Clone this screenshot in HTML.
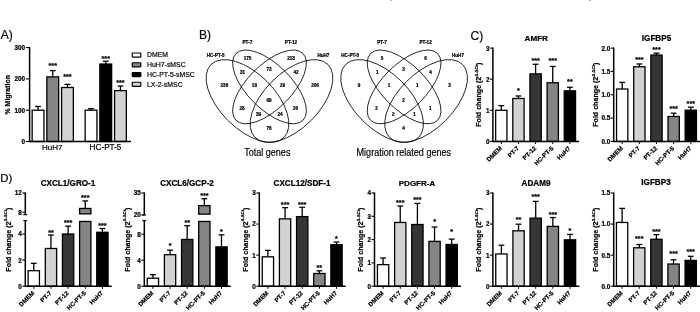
<!DOCTYPE html>
<html lang="en"><head><meta charset="utf-8"><title>Figure</title>
<style>html,body{margin:0;padding:0;background:#fff;}svg{display:block;}</style></head><body>
<svg width="700" height="312" viewBox="0 0 700 312" font-family="'Liberation Sans', sans-serif" fill="#000">
<rect x="0" y="0" width="700" height="312" fill="#fff"/>
<rect x="390.3" y="0" width="1.6" height="0.9" fill="#9a9a9a"/><rect x="589.3" y="0" width="1.6" height="0.9" fill="#9a9a9a"/>
<text x="0.80" y="39.00" font-size="12.0" stroke="#000" stroke-width="0.18" text-anchor="start">A)</text>
<line x1="38.05" y1="106.44" x2="38.05" y2="110.20" stroke="#000" stroke-width="1.3" stroke-linecap="butt"/>
<line x1="35.15" y1="106.44" x2="40.95" y2="106.44" stroke="#000" stroke-width="1.3" stroke-linecap="butt"/>
<rect x="32.15" y="110.20" width="11.80" height="31.30" fill="#ffffff" stroke="#000" stroke-width="1.3"/>
<line x1="52.75" y1="70.61" x2="52.75" y2="76.87" stroke="#000" stroke-width="1.3" stroke-linecap="butt"/>
<line x1="49.85" y1="70.61" x2="55.65" y2="70.61" stroke="#000" stroke-width="1.3" stroke-linecap="butt"/>
<rect x="46.85" y="76.87" width="11.80" height="64.63" fill="#858585" stroke="#000" stroke-width="1.3"/>
<text x="52.75" y="68.31" font-size="7.2" font-weight="bold" stroke="#000" stroke-width="0.22" text-anchor="middle">***</text>
<line x1="67.45" y1="84.38" x2="67.45" y2="87.51" stroke="#000" stroke-width="1.3" stroke-linecap="butt"/>
<line x1="64.55" y1="84.38" x2="70.35" y2="84.38" stroke="#000" stroke-width="1.3" stroke-linecap="butt"/>
<rect x="61.55" y="87.51" width="11.80" height="53.99" fill="#d2d2d2" stroke="#000" stroke-width="1.3"/>
<text x="67.45" y="78.51" font-size="7.2" font-weight="bold" stroke="#000" stroke-width="0.22" text-anchor="middle">***</text>
<line x1="91.05" y1="108.63" x2="91.05" y2="110.20" stroke="#000" stroke-width="1.3" stroke-linecap="butt"/>
<line x1="88.15" y1="108.63" x2="93.95" y2="108.63" stroke="#000" stroke-width="1.3" stroke-linecap="butt"/>
<rect x="85.15" y="110.20" width="11.80" height="31.30" fill="#ffffff" stroke="#000" stroke-width="1.3"/>
<line x1="105.75" y1="61.22" x2="105.75" y2="64.03" stroke="#000" stroke-width="1.3" stroke-linecap="butt"/>
<line x1="102.85" y1="61.22" x2="108.65" y2="61.22" stroke="#000" stroke-width="1.3" stroke-linecap="butt"/>
<rect x="99.85" y="64.03" width="11.80" height="77.47" fill="#000000" stroke="#000" stroke-width="1.3"/>
<text x="105.75" y="60.51" font-size="7.2" font-weight="bold" stroke="#000" stroke-width="0.22" text-anchor="middle">***</text>
<line x1="120.45" y1="86.10" x2="120.45" y2="90.64" stroke="#000" stroke-width="1.3" stroke-linecap="butt"/>
<line x1="117.55" y1="86.10" x2="123.35" y2="86.10" stroke="#000" stroke-width="1.3" stroke-linecap="butt"/>
<rect x="114.55" y="90.64" width="11.80" height="50.86" fill="#d2d2d2" stroke="#000" stroke-width="1.3"/>
<text x="120.45" y="85.11" font-size="7.2" font-weight="bold" stroke="#000" stroke-width="0.22" text-anchor="middle">***</text>
<line x1="29.60" y1="47.05" x2="29.60" y2="142.25" stroke="#000" stroke-width="1.5" stroke-linecap="butt"/>
<line x1="29.60" y1="141.50" x2="131.00" y2="141.50" stroke="#000" stroke-width="1.5" stroke-linecap="butt"/>
<line x1="25.80" y1="141.50" x2="29.60" y2="141.50" stroke="#000" stroke-width="1.1" stroke-linecap="butt"/>
<text x="25.00" y="143.90" font-size="6.3" font-weight="bold" stroke="#000" stroke-width="0.22" text-anchor="end">0</text>
<line x1="25.80" y1="110.20" x2="29.60" y2="110.20" stroke="#000" stroke-width="1.1" stroke-linecap="butt"/>
<text x="25.00" y="112.60" font-size="6.3" font-weight="bold" stroke="#000" stroke-width="0.22" text-anchor="end">100</text>
<line x1="25.80" y1="78.90" x2="29.60" y2="78.90" stroke="#000" stroke-width="1.1" stroke-linecap="butt"/>
<text x="25.00" y="81.30" font-size="6.3" font-weight="bold" stroke="#000" stroke-width="0.22" text-anchor="end">200</text>
<line x1="25.80" y1="47.60" x2="29.60" y2="47.60" stroke="#000" stroke-width="1.1" stroke-linecap="butt"/>
<text x="25.00" y="50.00" font-size="6.3" font-weight="bold" stroke="#000" stroke-width="0.22" text-anchor="end">300</text>
<text x="52.20" y="150.40" font-size="8.0" stroke="#000" stroke-width="0.18" text-anchor="middle">HuH7</text>
<text x="105.50" y="150.40" font-size="8.2" stroke="#000" stroke-width="0.18" text-anchor="middle">HC-PT-5</text>
<text x="0" y="0" font-size="7.0" font-weight="bold" stroke="#000" stroke-width="0.22" text-anchor="middle" transform="translate(10.1 94.8) rotate(-90) scale(1 0.92)">% Migration</text>
<rect x="132.25" y="53.00" width="8.6" height="4.1" rx="0.5" fill="#ffffff" stroke="#000" stroke-width="1.2"/>
<text x="147.00" y="57.40" font-size="6.9" stroke="#000" stroke-width="0.18" text-anchor="start">DMEM</text>
<rect x="132.25" y="62.75" width="8.6" height="4.1" rx="0.5" fill="#858585" stroke="#000" stroke-width="1.2"/>
<text x="147.00" y="67.15" font-size="6.9" stroke="#000" stroke-width="0.18" text-anchor="start">HuH7-sMSC</text>
<rect x="132.25" y="72.50" width="8.6" height="4.1" rx="0.5" fill="#000000" stroke="#000" stroke-width="1.2"/>
<text x="147.00" y="76.90" font-size="6.9" stroke="#000" stroke-width="0.18" text-anchor="start">HC-PT-5-sMSC</text>
<rect x="132.25" y="82.25" width="8.6" height="4.1" rx="0.5" fill="#d2d2d2" stroke="#000" stroke-width="1.2"/>
<text x="147.00" y="86.65" font-size="6.9" stroke="#000" stroke-width="0.18" text-anchor="start">LX-2-sMSC</text>
<text x="199.00" y="39.00" font-size="12.0" stroke="#000" stroke-width="0.18" text-anchor="start">B)</text>
<g fill="none" stroke="#000" stroke-width="0.8">
<ellipse cx="247.50" cy="101" rx="51.6" ry="27.6" transform="rotate(45 247.50 101)"/>
<ellipse cx="291.50" cy="101" rx="51.6" ry="27.6" transform="rotate(-45 291.50 101)"/>
<ellipse cx="269.50" cy="86.9" rx="47.3" ry="22" transform="rotate(45 269.50 86.9)"/>
<ellipse cx="269.50" cy="86.9" rx="47.3" ry="22" transform="rotate(-45 269.50 86.9)"/>
</g>
<text x="247.50" y="59.80" font-size="4.6" font-weight="bold" stroke="#000" stroke-width="0.22" text-anchor="middle">175</text>
<text x="291.00" y="59.80" font-size="4.6" font-weight="bold" stroke="#000" stroke-width="0.22" text-anchor="middle">213</text>
<text x="269.00" y="70.60" font-size="4.6" font-weight="bold" stroke="#000" stroke-width="0.22" text-anchor="middle">73</text>
<text x="242.60" y="73.60" font-size="4.6" font-weight="bold" stroke="#000" stroke-width="0.22" text-anchor="middle">31</text>
<text x="296.00" y="73.60" font-size="4.6" font-weight="bold" stroke="#000" stroke-width="0.22" text-anchor="middle">42</text>
<text x="224.40" y="87.20" font-size="4.6" font-weight="bold" stroke="#000" stroke-width="0.22" text-anchor="middle">236</text>
<text x="254.40" y="87.20" font-size="4.6" font-weight="bold" stroke="#000" stroke-width="0.22" text-anchor="middle">18</text>
<text x="282.60" y="87.20" font-size="4.6" font-weight="bold" stroke="#000" stroke-width="0.22" text-anchor="middle">29</text>
<text x="315.00" y="87.20" font-size="4.6" font-weight="bold" stroke="#000" stroke-width="0.22" text-anchor="middle">206</text>
<text x="269.00" y="102.20" font-size="4.6" font-weight="bold" stroke="#000" stroke-width="0.22" text-anchor="middle">69</text>
<text x="242.00" y="110.20" font-size="4.6" font-weight="bold" stroke="#000" stroke-width="0.22" text-anchor="middle">28</text>
<text x="295.60" y="110.20" font-size="4.6" font-weight="bold" stroke="#000" stroke-width="0.22" text-anchor="middle">26</text>
<text x="258.60" y="115.60" font-size="4.6" font-weight="bold" stroke="#000" stroke-width="0.22" text-anchor="middle">39</text>
<text x="280.00" y="115.60" font-size="4.6" font-weight="bold" stroke="#000" stroke-width="0.22" text-anchor="middle">24</text>
<text x="269.00" y="129.60" font-size="4.6" font-weight="bold" stroke="#000" stroke-width="0.22" text-anchor="middle">76</text>
<text x="215.60" y="56.90" font-size="4.6" font-weight="bold" stroke="#000" stroke-width="0.22" text-anchor="middle">HC-PT-5</text>
<text x="247.40" y="44.00" font-size="4.6" font-weight="bold" stroke="#000" stroke-width="0.22" text-anchor="middle">PT-7</text>
<text x="291.00" y="44.00" font-size="4.6" font-weight="bold" stroke="#000" stroke-width="0.22" text-anchor="middle">PT-12</text>
<text x="323.40" y="56.90" font-size="4.6" font-weight="bold" stroke="#000" stroke-width="0.22" text-anchor="middle">HuH7</text>
<g fill="none" stroke="#000" stroke-width="0.8">
<ellipse cx="382.10" cy="101" rx="51.6" ry="27.6" transform="rotate(45 382.10 101)"/>
<ellipse cx="426.10" cy="101" rx="51.6" ry="27.6" transform="rotate(-45 426.10 101)"/>
<ellipse cx="404.10" cy="86.9" rx="47.3" ry="22" transform="rotate(45 404.10 86.9)"/>
<ellipse cx="404.10" cy="86.9" rx="47.3" ry="22" transform="rotate(-45 404.10 86.9)"/>
</g>
<text x="382.10" y="59.80" font-size="4.6" font-weight="bold" stroke="#000" stroke-width="0.22" text-anchor="middle">5</text>
<text x="425.60" y="59.80" font-size="4.6" font-weight="bold" stroke="#000" stroke-width="0.22" text-anchor="middle">6</text>
<text x="403.60" y="70.60" font-size="4.6" font-weight="bold" stroke="#000" stroke-width="0.22" text-anchor="middle">3</text>
<text x="377.20" y="73.60" font-size="4.6" font-weight="bold" stroke="#000" stroke-width="0.22" text-anchor="middle">1</text>
<text x="430.60" y="73.60" font-size="4.6" font-weight="bold" stroke="#000" stroke-width="0.22" text-anchor="middle">4</text>
<text x="359.00" y="87.20" font-size="4.6" font-weight="bold" stroke="#000" stroke-width="0.22" text-anchor="middle">9</text>
<text x="389.00" y="87.20" font-size="4.6" font-weight="bold" stroke="#000" stroke-width="0.22" text-anchor="middle">1</text>
<text x="417.20" y="87.20" font-size="4.6" font-weight="bold" stroke="#000" stroke-width="0.22" text-anchor="middle">1</text>
<text x="449.60" y="87.20" font-size="4.6" font-weight="bold" stroke="#000" stroke-width="0.22" text-anchor="middle">3</text>
<text x="403.60" y="102.20" font-size="4.6" font-weight="bold" stroke="#000" stroke-width="0.22" text-anchor="middle">2</text>
<text x="376.60" y="110.20" font-size="4.6" font-weight="bold" stroke="#000" stroke-width="0.22" text-anchor="middle">2</text>
<text x="430.20" y="110.20" font-size="4.6" font-weight="bold" stroke="#000" stroke-width="0.22" text-anchor="middle">1</text>
<text x="393.20" y="115.60" font-size="4.6" font-weight="bold" stroke="#000" stroke-width="0.22" text-anchor="middle">2</text>
<text x="414.60" y="115.60" font-size="4.6" font-weight="bold" stroke="#000" stroke-width="0.22" text-anchor="middle">1</text>
<text x="403.60" y="129.60" font-size="4.6" font-weight="bold" stroke="#000" stroke-width="0.22" text-anchor="middle">4</text>
<text x="350.20" y="56.90" font-size="4.6" font-weight="bold" stroke="#000" stroke-width="0.22" text-anchor="middle">HC-PT-5</text>
<text x="382.00" y="44.00" font-size="4.6" font-weight="bold" stroke="#000" stroke-width="0.22" text-anchor="middle">PT-7</text>
<text x="425.60" y="44.00" font-size="4.6" font-weight="bold" stroke="#000" stroke-width="0.22" text-anchor="middle">PT-12</text>
<text x="458.00" y="56.90" font-size="4.6" font-weight="bold" stroke="#000" stroke-width="0.22" text-anchor="middle">HuH7</text>
<text x="267.30" y="155.80" font-size="10.4" stroke="#000" stroke-width="0.18" text-anchor="middle" transform="translate(267.30 155.80) scale(0.87 1) translate(-267.30 -155.80)">Total genes</text>
<text x="403.80" y="155.80" font-size="10.4" stroke="#000" stroke-width="0.18" text-anchor="middle" transform="translate(403.80 155.80) scale(0.87 1) translate(-403.80 -155.80)">Migration related genes</text>
<text x="470.60" y="40.00" font-size="12.0" stroke="#000" stroke-width="0.18" text-anchor="start">C)</text>
<line x1="501.30" y1="105.64" x2="501.30" y2="110.30" stroke="#000" stroke-width="1.3" stroke-linecap="butt"/>
<line x1="498.40" y1="105.64" x2="504.20" y2="105.64" stroke="#000" stroke-width="1.3" stroke-linecap="butt"/>
<rect x="495.65" y="110.30" width="11.30" height="31.10" fill="#ffffff" stroke="#000" stroke-width="1.3"/>
<line x1="518.45" y1="95.99" x2="518.45" y2="98.48" stroke="#000" stroke-width="1.3" stroke-linecap="butt"/>
<line x1="515.55" y1="95.99" x2="521.35" y2="95.99" stroke="#000" stroke-width="1.3" stroke-linecap="butt"/>
<rect x="512.80" y="98.48" width="11.30" height="42.92" fill="#d2d2d2" stroke="#000" stroke-width="1.3"/>
<text x="518.45" y="93.01" font-size="7.2" font-weight="bold" stroke="#000" stroke-width="0.22" text-anchor="middle">*</text>
<line x1="535.60" y1="64.27" x2="535.60" y2="73.91" stroke="#000" stroke-width="1.3" stroke-linecap="butt"/>
<line x1="532.70" y1="64.27" x2="538.50" y2="64.27" stroke="#000" stroke-width="1.3" stroke-linecap="butt"/>
<rect x="529.95" y="73.91" width="11.30" height="67.49" fill="#363636" stroke="#000" stroke-width="1.3"/>
<text x="535.60" y="62.81" font-size="7.2" font-weight="bold" stroke="#000" stroke-width="0.22" text-anchor="middle">***</text>
<line x1="552.75" y1="66.45" x2="552.75" y2="82.78" stroke="#000" stroke-width="1.3" stroke-linecap="butt"/>
<line x1="549.85" y1="66.45" x2="555.65" y2="66.45" stroke="#000" stroke-width="1.3" stroke-linecap="butt"/>
<rect x="547.10" y="82.78" width="11.30" height="58.62" fill="#858585" stroke="#000" stroke-width="1.3"/>
<text x="552.75" y="62.71" font-size="7.2" font-weight="bold" stroke="#000" stroke-width="0.22" text-anchor="middle">***</text>
<line x1="569.90" y1="87.29" x2="569.90" y2="90.86" stroke="#000" stroke-width="1.3" stroke-linecap="butt"/>
<line x1="567.00" y1="87.29" x2="572.80" y2="87.29" stroke="#000" stroke-width="1.3" stroke-linecap="butt"/>
<rect x="564.25" y="90.86" width="11.30" height="50.54" fill="#000000" stroke="#000" stroke-width="1.3"/>
<text x="569.90" y="84.41" font-size="7.2" font-weight="bold" stroke="#000" stroke-width="0.22" text-anchor="middle">**</text>
<line x1="492.90" y1="47.55" x2="492.90" y2="142.15" stroke="#000" stroke-width="1.5" stroke-linecap="butt"/>
<line x1="492.90" y1="141.40" x2="579.20" y2="141.40" stroke="#000" stroke-width="1.5" stroke-linecap="butt"/>
<line x1="489.90" y1="141.40" x2="492.90" y2="141.40" stroke="#000" stroke-width="1.1" stroke-linecap="butt"/>
<text x="489.40" y="143.80" font-size="6.3" font-weight="bold" stroke="#000" stroke-width="0.22" text-anchor="end">0</text>
<line x1="489.90" y1="110.30" x2="492.90" y2="110.30" stroke="#000" stroke-width="1.1" stroke-linecap="butt"/>
<text x="489.40" y="112.70" font-size="6.3" font-weight="bold" stroke="#000" stroke-width="0.22" text-anchor="end">1</text>
<line x1="489.90" y1="79.20" x2="492.90" y2="79.20" stroke="#000" stroke-width="1.1" stroke-linecap="butt"/>
<text x="489.40" y="81.60" font-size="6.3" font-weight="bold" stroke="#000" stroke-width="0.22" text-anchor="end">2</text>
<line x1="489.90" y1="48.10" x2="492.90" y2="48.10" stroke="#000" stroke-width="1.1" stroke-linecap="butt"/>
<text x="489.40" y="50.50" font-size="6.3" font-weight="bold" stroke="#000" stroke-width="0.22" text-anchor="end">3</text>
<line x1="501.30" y1="141.40" x2="501.30" y2="144.00" stroke="#000" stroke-width="1.0" stroke-linecap="butt"/>
<text x="502.40" y="148.70" font-size="6.2" font-weight="bold" stroke="#000" stroke-width="0.22" text-anchor="end" transform="rotate(-45 502.40 148.70)">DMEM</text>
<line x1="518.45" y1="141.40" x2="518.45" y2="144.00" stroke="#000" stroke-width="1.0" stroke-linecap="butt"/>
<text x="519.55" y="148.70" font-size="6.2" font-weight="bold" stroke="#000" stroke-width="0.22" text-anchor="end" transform="rotate(-45 519.55 148.70)">PT-7</text>
<line x1="535.60" y1="141.40" x2="535.60" y2="144.00" stroke="#000" stroke-width="1.0" stroke-linecap="butt"/>
<text x="536.70" y="148.70" font-size="6.2" font-weight="bold" stroke="#000" stroke-width="0.22" text-anchor="end" transform="rotate(-45 536.70 148.70)">PT-12</text>
<line x1="552.75" y1="141.40" x2="552.75" y2="144.00" stroke="#000" stroke-width="1.0" stroke-linecap="butt"/>
<text x="553.85" y="148.70" font-size="6.2" font-weight="bold" stroke="#000" stroke-width="0.22" text-anchor="end" transform="rotate(-45 553.85 148.70)">HC-PT-5</text>
<line x1="569.90" y1="141.40" x2="569.90" y2="144.00" stroke="#000" stroke-width="1.0" stroke-linecap="butt"/>
<text x="571.00" y="148.70" font-size="6.2" font-weight="bold" stroke="#000" stroke-width="0.22" text-anchor="end" transform="rotate(-45 571.00 148.70)">HuH7</text>
<text x="536.30" y="41.00" font-size="8.1" font-weight="bold" stroke="#000" stroke-width="0.22" text-anchor="middle">AMFR</text>
<text x="0" y="0" font-size="7.1" font-weight="bold" stroke="#000" stroke-width="0.22" text-anchor="middle" transform="translate(481.40 94.75) rotate(-90) scale(1 0.9)">Fold change (2<tspan font-size="4.26" dy="-3.69">Δ ΔCt</tspan><tspan dy="3.69">)</tspan></text>
<line x1="622.20" y1="82.39" x2="622.20" y2="89.01" stroke="#000" stroke-width="1.3" stroke-linecap="butt"/>
<line x1="619.30" y1="82.39" x2="625.10" y2="82.39" stroke="#000" stroke-width="1.3" stroke-linecap="butt"/>
<rect x="616.55" y="89.01" width="11.30" height="52.39" fill="#ffffff" stroke="#000" stroke-width="1.3"/>
<line x1="639.35" y1="63.96" x2="639.35" y2="66.76" stroke="#000" stroke-width="1.3" stroke-linecap="butt"/>
<line x1="636.45" y1="63.96" x2="642.25" y2="63.96" stroke="#000" stroke-width="1.3" stroke-linecap="butt"/>
<rect x="633.70" y="66.76" width="11.30" height="74.64" fill="#d2d2d2" stroke="#000" stroke-width="1.3"/>
<text x="639.35" y="61.71" font-size="7.2" font-weight="bold" stroke="#000" stroke-width="0.22" text-anchor="middle">***</text>
<line x1="656.50" y1="53.23" x2="656.50" y2="55.10" stroke="#000" stroke-width="1.3" stroke-linecap="butt"/>
<line x1="653.60" y1="53.23" x2="659.40" y2="53.23" stroke="#000" stroke-width="1.3" stroke-linecap="butt"/>
<rect x="650.85" y="55.10" width="11.30" height="86.30" fill="#363636" stroke="#000" stroke-width="1.3"/>
<text x="656.50" y="52.01" font-size="7.2" font-weight="bold" stroke="#000" stroke-width="0.22" text-anchor="middle">***</text>
<line x1="673.65" y1="113.22" x2="673.65" y2="116.49" stroke="#000" stroke-width="1.3" stroke-linecap="butt"/>
<line x1="670.75" y1="113.22" x2="676.55" y2="113.22" stroke="#000" stroke-width="1.3" stroke-linecap="butt"/>
<rect x="668.00" y="116.49" width="11.30" height="24.91" fill="#858585" stroke="#000" stroke-width="1.3"/>
<text x="673.65" y="111.41" font-size="7.2" font-weight="bold" stroke="#000" stroke-width="0.22" text-anchor="middle">***</text>
<line x1="690.80" y1="107.21" x2="690.80" y2="110.19" stroke="#000" stroke-width="1.3" stroke-linecap="butt"/>
<line x1="687.90" y1="107.21" x2="693.70" y2="107.21" stroke="#000" stroke-width="1.3" stroke-linecap="butt"/>
<rect x="685.15" y="110.19" width="11.30" height="31.21" fill="#000000" stroke="#000" stroke-width="1.3"/>
<text x="690.80" y="106.11" font-size="7.2" font-weight="bold" stroke="#000" stroke-width="0.22" text-anchor="middle">***</text>
<line x1="613.70" y1="47.55" x2="613.70" y2="142.15" stroke="#000" stroke-width="1.5" stroke-linecap="butt"/>
<line x1="613.70" y1="141.40" x2="700.10" y2="141.40" stroke="#000" stroke-width="1.5" stroke-linecap="butt"/>
<line x1="610.70" y1="141.40" x2="613.70" y2="141.40" stroke="#000" stroke-width="1.1" stroke-linecap="butt"/>
<text x="610.20" y="143.80" font-size="6.3" font-weight="bold" stroke="#000" stroke-width="0.22" text-anchor="end">0.0</text>
<line x1="610.70" y1="118.08" x2="613.70" y2="118.08" stroke="#000" stroke-width="1.1" stroke-linecap="butt"/>
<text x="610.20" y="120.48" font-size="6.3" font-weight="bold" stroke="#000" stroke-width="0.22" text-anchor="end">0.5</text>
<line x1="610.70" y1="94.75" x2="613.70" y2="94.75" stroke="#000" stroke-width="1.1" stroke-linecap="butt"/>
<text x="610.20" y="97.15" font-size="6.3" font-weight="bold" stroke="#000" stroke-width="0.22" text-anchor="end">1.0</text>
<line x1="610.70" y1="71.42" x2="613.70" y2="71.42" stroke="#000" stroke-width="1.1" stroke-linecap="butt"/>
<text x="610.20" y="73.83" font-size="6.3" font-weight="bold" stroke="#000" stroke-width="0.22" text-anchor="end">1.5</text>
<line x1="610.70" y1="48.10" x2="613.70" y2="48.10" stroke="#000" stroke-width="1.1" stroke-linecap="butt"/>
<text x="610.20" y="50.50" font-size="6.3" font-weight="bold" stroke="#000" stroke-width="0.22" text-anchor="end">2.0</text>
<line x1="622.20" y1="141.40" x2="622.20" y2="144.00" stroke="#000" stroke-width="1.0" stroke-linecap="butt"/>
<text x="623.30" y="148.70" font-size="6.2" font-weight="bold" stroke="#000" stroke-width="0.22" text-anchor="end" transform="rotate(-45 623.30 148.70)">DMEM</text>
<line x1="639.35" y1="141.40" x2="639.35" y2="144.00" stroke="#000" stroke-width="1.0" stroke-linecap="butt"/>
<text x="640.45" y="148.70" font-size="6.2" font-weight="bold" stroke="#000" stroke-width="0.22" text-anchor="end" transform="rotate(-45 640.45 148.70)">PT-7</text>
<line x1="656.50" y1="141.40" x2="656.50" y2="144.00" stroke="#000" stroke-width="1.0" stroke-linecap="butt"/>
<text x="657.60" y="148.70" font-size="6.2" font-weight="bold" stroke="#000" stroke-width="0.22" text-anchor="end" transform="rotate(-45 657.60 148.70)">PT-12</text>
<line x1="673.65" y1="141.40" x2="673.65" y2="144.00" stroke="#000" stroke-width="1.0" stroke-linecap="butt"/>
<text x="674.75" y="148.70" font-size="6.2" font-weight="bold" stroke="#000" stroke-width="0.22" text-anchor="end" transform="rotate(-45 674.75 148.70)">HC-PT-5</text>
<line x1="690.80" y1="141.40" x2="690.80" y2="144.00" stroke="#000" stroke-width="1.0" stroke-linecap="butt"/>
<text x="691.90" y="148.70" font-size="6.2" font-weight="bold" stroke="#000" stroke-width="0.22" text-anchor="end" transform="rotate(-45 691.90 148.70)">HuH7</text>
<text x="656.50" y="41.00" font-size="8.15" font-weight="bold" stroke="#000" stroke-width="0.22" text-anchor="middle">IGFBP5</text>
<text x="0" y="0" font-size="7.1" font-weight="bold" stroke="#000" stroke-width="0.22" text-anchor="middle" transform="translate(598.30 94.75) rotate(-90) scale(1 0.9)">Fold change (2<tspan font-size="4.26" dy="-3.69">Δ ΔCt</tspan><tspan dy="3.69">)</tspan></text>
<text x="0.20" y="182.20" font-size="11.4" stroke="#000" stroke-width="0.18" text-anchor="start">D)</text>
<line x1="33.80" y1="263.36" x2="33.80" y2="270.67" stroke="#000" stroke-width="1.3" stroke-linecap="butt"/>
<line x1="30.90" y1="263.36" x2="36.70" y2="263.36" stroke="#000" stroke-width="1.3" stroke-linecap="butt"/>
<rect x="28.15" y="270.67" width="11.30" height="15.53" fill="#ffffff" stroke="#000" stroke-width="1.3"/>
<line x1="50.95" y1="235.04" x2="50.95" y2="248.49" stroke="#000" stroke-width="1.3" stroke-linecap="butt"/>
<line x1="48.05" y1="235.04" x2="53.85" y2="235.04" stroke="#000" stroke-width="1.3" stroke-linecap="butt"/>
<rect x="45.30" y="248.49" width="11.30" height="37.71" fill="#d2d2d2" stroke="#000" stroke-width="1.3"/>
<text x="50.95" y="234.51" font-size="7.2" font-weight="bold" stroke="#000" stroke-width="0.22" text-anchor="middle">**</text>
<line x1="68.10" y1="226.17" x2="68.10" y2="234.00" stroke="#000" stroke-width="1.3" stroke-linecap="butt"/>
<line x1="65.20" y1="226.17" x2="71.00" y2="226.17" stroke="#000" stroke-width="1.3" stroke-linecap="butt"/>
<rect x="62.45" y="234.00" width="11.30" height="52.20" fill="#363636" stroke="#000" stroke-width="1.3"/>
<text x="68.10" y="225.11" font-size="7.2" font-weight="bold" stroke="#000" stroke-width="0.22" text-anchor="middle">***</text>
<line x1="85.25" y1="200.92" x2="85.25" y2="208.46" stroke="#000" stroke-width="1.3" stroke-linecap="butt"/>
<line x1="82.35" y1="200.92" x2="88.15" y2="200.92" stroke="#000" stroke-width="1.3" stroke-linecap="butt"/>
<rect x="79.60" y="221.45" width="11.30" height="64.75" fill="#858585" stroke="#000" stroke-width="1.3"/>
<rect x="79.60" y="208.46" width="11.30" height="5.39" fill="#858585" stroke="#000" stroke-width="1.3"/>
<text x="85.25" y="200.31" font-size="7.2" font-weight="bold" stroke="#000" stroke-width="0.22" text-anchor="middle">***</text>
<line x1="102.40" y1="228.52" x2="102.40" y2="232.30" stroke="#000" stroke-width="1.3" stroke-linecap="butt"/>
<line x1="99.50" y1="228.52" x2="105.30" y2="228.52" stroke="#000" stroke-width="1.3" stroke-linecap="butt"/>
<rect x="96.75" y="232.30" width="11.30" height="53.90" fill="#000000" stroke="#000" stroke-width="1.3"/>
<text x="102.40" y="227.51" font-size="7.2" font-weight="bold" stroke="#000" stroke-width="0.22" text-anchor="middle">***</text>
<line x1="25.30" y1="192.45" x2="25.30" y2="214.70" stroke="#000" stroke-width="1.5" stroke-linecap="butt"/>
<line x1="23.30" y1="214.70" x2="27.20" y2="214.70" stroke="#000" stroke-width="1.1" stroke-linecap="butt"/>
<line x1="25.30" y1="220.60" x2="25.30" y2="286.95" stroke="#000" stroke-width="1.5" stroke-linecap="butt"/>
<line x1="23.30" y1="220.60" x2="27.20" y2="220.60" stroke="#000" stroke-width="1.1" stroke-linecap="butt"/>
<line x1="25.30" y1="286.20" x2="111.70" y2="286.20" stroke="#000" stroke-width="1.5" stroke-linecap="butt"/>
<line x1="22.30" y1="286.20" x2="25.30" y2="286.20" stroke="#000" stroke-width="1.1" stroke-linecap="butt"/>
<text x="21.80" y="288.60" font-size="6.3" font-weight="bold" stroke="#000" stroke-width="0.22" text-anchor="end">0</text>
<line x1="22.30" y1="260.10" x2="25.30" y2="260.10" stroke="#000" stroke-width="1.1" stroke-linecap="butt"/>
<text x="21.80" y="262.50" font-size="6.3" font-weight="bold" stroke="#000" stroke-width="0.22" text-anchor="end">2</text>
<line x1="22.30" y1="234.00" x2="25.30" y2="234.00" stroke="#000" stroke-width="1.1" stroke-linecap="butt"/>
<text x="21.80" y="236.40" font-size="6.3" font-weight="bold" stroke="#000" stroke-width="0.22" text-anchor="end">4</text>
<line x1="22.30" y1="212.20" x2="25.30" y2="212.20" stroke="#000" stroke-width="1.1" stroke-linecap="butt"/>
<text x="21.80" y="214.60" font-size="6.3" font-weight="bold" stroke="#000" stroke-width="0.22" text-anchor="end">8</text>
<line x1="22.30" y1="193.00" x2="25.30" y2="193.00" stroke="#000" stroke-width="1.1" stroke-linecap="butt"/>
<text x="21.80" y="195.40" font-size="6.3" font-weight="bold" stroke="#000" stroke-width="0.22" text-anchor="end">12</text>
<line x1="33.80" y1="286.20" x2="33.80" y2="288.80" stroke="#000" stroke-width="1.0" stroke-linecap="butt"/>
<text x="34.90" y="293.50" font-size="6.2" font-weight="bold" stroke="#000" stroke-width="0.22" text-anchor="end" transform="rotate(-45 34.90 293.50)">DMEM</text>
<line x1="50.95" y1="286.20" x2="50.95" y2="288.80" stroke="#000" stroke-width="1.0" stroke-linecap="butt"/>
<text x="52.05" y="293.50" font-size="6.2" font-weight="bold" stroke="#000" stroke-width="0.22" text-anchor="end" transform="rotate(-45 52.05 293.50)">PT-7</text>
<line x1="68.10" y1="286.20" x2="68.10" y2="288.80" stroke="#000" stroke-width="1.0" stroke-linecap="butt"/>
<text x="69.20" y="293.50" font-size="6.2" font-weight="bold" stroke="#000" stroke-width="0.22" text-anchor="end" transform="rotate(-45 69.20 293.50)">PT-12</text>
<line x1="85.25" y1="286.20" x2="85.25" y2="288.80" stroke="#000" stroke-width="1.0" stroke-linecap="butt"/>
<text x="86.35" y="293.50" font-size="6.2" font-weight="bold" stroke="#000" stroke-width="0.22" text-anchor="end" transform="rotate(-45 86.35 293.50)">HC-PT-5</text>
<line x1="102.40" y1="286.20" x2="102.40" y2="288.80" stroke="#000" stroke-width="1.0" stroke-linecap="butt"/>
<text x="103.50" y="293.50" font-size="6.2" font-weight="bold" stroke="#000" stroke-width="0.22" text-anchor="end" transform="rotate(-45 103.50 293.50)">HuH7</text>
<text x="68.00" y="185.50" font-size="8.15" font-weight="bold" stroke="#000" stroke-width="0.22" text-anchor="middle">CXCL1/GRO-1</text>
<text x="0" y="0" font-size="7.1" font-weight="bold" stroke="#000" stroke-width="0.22" text-anchor="middle" transform="translate(10.80 239.60) rotate(-90) scale(1 0.9)">Fold change (2<tspan font-size="4.26" dy="-3.69">Δ ΔCt</tspan><tspan dy="3.69">)</tspan></text>
<line x1="152.90" y1="274.69" x2="152.90" y2="278.20" stroke="#000" stroke-width="1.3" stroke-linecap="butt"/>
<line x1="150.00" y1="274.69" x2="155.80" y2="274.69" stroke="#000" stroke-width="1.3" stroke-linecap="butt"/>
<rect x="147.25" y="278.20" width="11.30" height="8.00" fill="#ffffff" stroke="#000" stroke-width="1.3"/>
<line x1="170.05" y1="250.19" x2="170.05" y2="254.67" stroke="#000" stroke-width="1.3" stroke-linecap="butt"/>
<line x1="167.15" y1="250.19" x2="172.95" y2="250.19" stroke="#000" stroke-width="1.3" stroke-linecap="butt"/>
<rect x="164.40" y="254.67" width="11.30" height="31.53" fill="#d2d2d2" stroke="#000" stroke-width="1.3"/>
<text x="170.05" y="247.81" font-size="7.2" font-weight="bold" stroke="#000" stroke-width="0.22" text-anchor="middle">*</text>
<line x1="187.20" y1="225.75" x2="187.20" y2="239.46" stroke="#000" stroke-width="1.3" stroke-linecap="butt"/>
<line x1="184.30" y1="225.75" x2="190.10" y2="225.75" stroke="#000" stroke-width="1.3" stroke-linecap="butt"/>
<rect x="181.55" y="239.46" width="11.30" height="46.74" fill="#363636" stroke="#000" stroke-width="1.3"/>
<text x="187.20" y="224.91" font-size="7.2" font-weight="bold" stroke="#000" stroke-width="0.22" text-anchor="middle">**</text>
<line x1="204.35" y1="198.72" x2="204.35" y2="205.61" stroke="#000" stroke-width="1.3" stroke-linecap="butt"/>
<line x1="201.45" y1="198.72" x2="207.25" y2="198.72" stroke="#000" stroke-width="1.3" stroke-linecap="butt"/>
<rect x="198.70" y="221.45" width="11.30" height="64.75" fill="#858585" stroke="#000" stroke-width="1.3"/>
<rect x="198.70" y="205.61" width="11.30" height="8.54" fill="#858585" stroke="#000" stroke-width="1.3"/>
<text x="204.35" y="198.21" font-size="7.2" font-weight="bold" stroke="#000" stroke-width="0.22" text-anchor="middle">***</text>
<line x1="221.50" y1="234.85" x2="221.50" y2="246.88" stroke="#000" stroke-width="1.3" stroke-linecap="butt"/>
<line x1="218.60" y1="234.85" x2="224.40" y2="234.85" stroke="#000" stroke-width="1.3" stroke-linecap="butt"/>
<rect x="215.85" y="246.88" width="11.30" height="39.32" fill="#000000" stroke="#000" stroke-width="1.3"/>
<text x="221.50" y="234.11" font-size="7.2" font-weight="bold" stroke="#000" stroke-width="0.22" text-anchor="middle">*</text>
<line x1="144.30" y1="192.45" x2="144.30" y2="215.00" stroke="#000" stroke-width="1.5" stroke-linecap="butt"/>
<line x1="142.30" y1="215.00" x2="146.20" y2="215.00" stroke="#000" stroke-width="1.1" stroke-linecap="butt"/>
<line x1="144.30" y1="220.60" x2="144.30" y2="286.95" stroke="#000" stroke-width="1.5" stroke-linecap="butt"/>
<line x1="142.30" y1="220.60" x2="146.20" y2="220.60" stroke="#000" stroke-width="1.1" stroke-linecap="butt"/>
<line x1="144.30" y1="286.20" x2="230.80" y2="286.20" stroke="#000" stroke-width="1.5" stroke-linecap="butt"/>
<line x1="141.30" y1="286.20" x2="144.30" y2="286.20" stroke="#000" stroke-width="1.1" stroke-linecap="butt"/>
<text x="140.80" y="288.60" font-size="6.3" font-weight="bold" stroke="#000" stroke-width="0.22" text-anchor="end">0</text>
<line x1="141.30" y1="260.20" x2="144.30" y2="260.20" stroke="#000" stroke-width="1.1" stroke-linecap="butt"/>
<text x="140.80" y="262.60" font-size="6.3" font-weight="bold" stroke="#000" stroke-width="0.22" text-anchor="end">4</text>
<line x1="141.30" y1="234.20" x2="144.30" y2="234.20" stroke="#000" stroke-width="1.1" stroke-linecap="butt"/>
<text x="140.80" y="236.60" font-size="6.3" font-weight="bold" stroke="#000" stroke-width="0.22" text-anchor="end">8</text>
<line x1="141.30" y1="215.00" x2="144.30" y2="215.00" stroke="#000" stroke-width="1.1" stroke-linecap="butt"/>
<text x="140.80" y="217.40" font-size="6.3" font-weight="bold" stroke="#000" stroke-width="0.22" text-anchor="end">20</text>
<line x1="141.30" y1="193.00" x2="144.30" y2="193.00" stroke="#000" stroke-width="1.1" stroke-linecap="butt"/>
<text x="140.80" y="195.40" font-size="6.3" font-weight="bold" stroke="#000" stroke-width="0.22" text-anchor="end">35</text>
<line x1="152.90" y1="286.20" x2="152.90" y2="288.80" stroke="#000" stroke-width="1.0" stroke-linecap="butt"/>
<text x="154.00" y="293.50" font-size="6.2" font-weight="bold" stroke="#000" stroke-width="0.22" text-anchor="end" transform="rotate(-45 154.00 293.50)">DMEM</text>
<line x1="170.05" y1="286.20" x2="170.05" y2="288.80" stroke="#000" stroke-width="1.0" stroke-linecap="butt"/>
<text x="171.15" y="293.50" font-size="6.2" font-weight="bold" stroke="#000" stroke-width="0.22" text-anchor="end" transform="rotate(-45 171.15 293.50)">PT-7</text>
<line x1="187.20" y1="286.20" x2="187.20" y2="288.80" stroke="#000" stroke-width="1.0" stroke-linecap="butt"/>
<text x="188.30" y="293.50" font-size="6.2" font-weight="bold" stroke="#000" stroke-width="0.22" text-anchor="end" transform="rotate(-45 188.30 293.50)">PT-12</text>
<line x1="204.35" y1="286.20" x2="204.35" y2="288.80" stroke="#000" stroke-width="1.0" stroke-linecap="butt"/>
<text x="205.45" y="293.50" font-size="6.2" font-weight="bold" stroke="#000" stroke-width="0.22" text-anchor="end" transform="rotate(-45 205.45 293.50)">HC-PT-5</text>
<line x1="221.50" y1="286.20" x2="221.50" y2="288.80" stroke="#000" stroke-width="1.0" stroke-linecap="butt"/>
<text x="222.60" y="293.50" font-size="6.2" font-weight="bold" stroke="#000" stroke-width="0.22" text-anchor="end" transform="rotate(-45 222.60 293.50)">HuH7</text>
<text x="187.00" y="185.50" font-size="8.15" font-weight="bold" stroke="#000" stroke-width="0.22" text-anchor="middle">CXCL6/GCP-2</text>
<text x="0" y="0" font-size="7.1" font-weight="bold" stroke="#000" stroke-width="0.22" text-anchor="middle" transform="translate(129.80 239.60) rotate(-90) scale(1 0.9)">Fold change (2<tspan font-size="4.26" dy="-3.69">Δ ΔCt</tspan><tspan dy="3.69">)</tspan></text>
<line x1="267.90" y1="250.38" x2="267.90" y2="256.81" stroke="#000" stroke-width="1.3" stroke-linecap="butt"/>
<line x1="265.00" y1="250.38" x2="270.80" y2="250.38" stroke="#000" stroke-width="1.3" stroke-linecap="butt"/>
<rect x="262.25" y="256.81" width="11.30" height="29.39" fill="#ffffff" stroke="#000" stroke-width="1.3"/>
<line x1="285.05" y1="207.66" x2="285.05" y2="218.85" stroke="#000" stroke-width="1.3" stroke-linecap="butt"/>
<line x1="282.15" y1="207.66" x2="287.95" y2="207.66" stroke="#000" stroke-width="1.3" stroke-linecap="butt"/>
<rect x="279.40" y="218.85" width="11.30" height="67.35" fill="#d2d2d2" stroke="#000" stroke-width="1.3"/>
<text x="285.05" y="206.51" font-size="7.2" font-weight="bold" stroke="#000" stroke-width="0.22" text-anchor="middle">***</text>
<line x1="302.20" y1="207.29" x2="302.20" y2="216.61" stroke="#000" stroke-width="1.3" stroke-linecap="butt"/>
<line x1="299.30" y1="207.29" x2="305.10" y2="207.29" stroke="#000" stroke-width="1.3" stroke-linecap="butt"/>
<rect x="296.55" y="216.61" width="11.30" height="69.59" fill="#363636" stroke="#000" stroke-width="1.3"/>
<text x="302.20" y="206.51" font-size="7.2" font-weight="bold" stroke="#000" stroke-width="0.22" text-anchor="middle">***</text>
<line x1="319.35" y1="270.79" x2="319.35" y2="273.49" stroke="#000" stroke-width="1.3" stroke-linecap="butt"/>
<line x1="316.45" y1="270.79" x2="322.25" y2="270.79" stroke="#000" stroke-width="1.3" stroke-linecap="butt"/>
<rect x="313.70" y="273.49" width="11.30" height="12.71" fill="#858585" stroke="#000" stroke-width="1.3"/>
<text x="319.35" y="270.31" font-size="7.2" font-weight="bold" stroke="#000" stroke-width="0.22" text-anchor="middle">**</text>
<line x1="336.50" y1="242.09" x2="336.50" y2="244.69" stroke="#000" stroke-width="1.3" stroke-linecap="butt"/>
<line x1="333.60" y1="242.09" x2="339.40" y2="242.09" stroke="#000" stroke-width="1.3" stroke-linecap="butt"/>
<rect x="330.85" y="244.69" width="11.30" height="41.51" fill="#000000" stroke="#000" stroke-width="1.3"/>
<text x="336.50" y="240.91" font-size="7.2" font-weight="bold" stroke="#000" stroke-width="0.22" text-anchor="middle">*</text>
<line x1="259.30" y1="192.45" x2="259.30" y2="286.95" stroke="#000" stroke-width="1.5" stroke-linecap="butt"/>
<line x1="259.30" y1="286.20" x2="345.80" y2="286.20" stroke="#000" stroke-width="1.5" stroke-linecap="butt"/>
<line x1="256.30" y1="286.20" x2="259.30" y2="286.20" stroke="#000" stroke-width="1.1" stroke-linecap="butt"/>
<text x="255.80" y="288.60" font-size="6.3" font-weight="bold" stroke="#000" stroke-width="0.22" text-anchor="end">0</text>
<line x1="256.30" y1="255.13" x2="259.30" y2="255.13" stroke="#000" stroke-width="1.1" stroke-linecap="butt"/>
<text x="255.80" y="257.53" font-size="6.3" font-weight="bold" stroke="#000" stroke-width="0.22" text-anchor="end">1</text>
<line x1="256.30" y1="224.07" x2="259.30" y2="224.07" stroke="#000" stroke-width="1.1" stroke-linecap="butt"/>
<text x="255.80" y="226.47" font-size="6.3" font-weight="bold" stroke="#000" stroke-width="0.22" text-anchor="end">2</text>
<line x1="256.30" y1="193.00" x2="259.30" y2="193.00" stroke="#000" stroke-width="1.1" stroke-linecap="butt"/>
<text x="255.80" y="195.40" font-size="6.3" font-weight="bold" stroke="#000" stroke-width="0.22" text-anchor="end">3</text>
<line x1="267.90" y1="286.20" x2="267.90" y2="288.80" stroke="#000" stroke-width="1.0" stroke-linecap="butt"/>
<text x="269.00" y="293.50" font-size="6.2" font-weight="bold" stroke="#000" stroke-width="0.22" text-anchor="end" transform="rotate(-45 269.00 293.50)">DMEM</text>
<line x1="285.05" y1="286.20" x2="285.05" y2="288.80" stroke="#000" stroke-width="1.0" stroke-linecap="butt"/>
<text x="286.15" y="293.50" font-size="6.2" font-weight="bold" stroke="#000" stroke-width="0.22" text-anchor="end" transform="rotate(-45 286.15 293.50)">PT-7</text>
<line x1="302.20" y1="286.20" x2="302.20" y2="288.80" stroke="#000" stroke-width="1.0" stroke-linecap="butt"/>
<text x="303.30" y="293.50" font-size="6.2" font-weight="bold" stroke="#000" stroke-width="0.22" text-anchor="end" transform="rotate(-45 303.30 293.50)">PT-12</text>
<line x1="319.35" y1="286.20" x2="319.35" y2="288.80" stroke="#000" stroke-width="1.0" stroke-linecap="butt"/>
<text x="320.45" y="293.50" font-size="6.2" font-weight="bold" stroke="#000" stroke-width="0.22" text-anchor="end" transform="rotate(-45 320.45 293.50)">HC-PT-5</text>
<line x1="336.50" y1="286.20" x2="336.50" y2="288.80" stroke="#000" stroke-width="1.0" stroke-linecap="butt"/>
<text x="337.60" y="293.50" font-size="6.2" font-weight="bold" stroke="#000" stroke-width="0.22" text-anchor="end" transform="rotate(-45 337.60 293.50)">HuH7</text>
<text x="302.00" y="185.50" font-size="8.15" font-weight="bold" stroke="#000" stroke-width="0.22" text-anchor="middle">CXCL12/SDF-1</text>
<text x="0" y="0" font-size="7.1" font-weight="bold" stroke="#000" stroke-width="0.22" text-anchor="middle" transform="translate(247.80 239.60) rotate(-90) scale(1 0.9)">Fold change (2<tspan font-size="4.26" dy="-3.69">Δ ΔCt</tspan><tspan dy="3.69">)</tspan></text>
<line x1="383.10" y1="258.01" x2="383.10" y2="264.65" stroke="#000" stroke-width="1.3" stroke-linecap="butt"/>
<line x1="380.20" y1="258.01" x2="386.00" y2="258.01" stroke="#000" stroke-width="1.3" stroke-linecap="butt"/>
<rect x="377.45" y="264.65" width="11.30" height="21.55" fill="#ffffff" stroke="#000" stroke-width="1.3"/>
<line x1="400.25" y1="206.05" x2="400.25" y2="222.45" stroke="#000" stroke-width="1.3" stroke-linecap="butt"/>
<line x1="397.35" y1="206.05" x2="403.15" y2="206.05" stroke="#000" stroke-width="1.3" stroke-linecap="butt"/>
<rect x="394.60" y="222.45" width="11.30" height="63.75" fill="#d2d2d2" stroke="#000" stroke-width="1.3"/>
<text x="400.25" y="204.51" font-size="7.2" font-weight="bold" stroke="#000" stroke-width="0.22" text-anchor="middle">***</text>
<line x1="417.40" y1="203.42" x2="417.40" y2="224.50" stroke="#000" stroke-width="1.3" stroke-linecap="butt"/>
<line x1="414.50" y1="203.42" x2="420.30" y2="203.42" stroke="#000" stroke-width="1.3" stroke-linecap="butt"/>
<rect x="411.75" y="224.50" width="11.30" height="61.70" fill="#363636" stroke="#000" stroke-width="1.3"/>
<text x="417.40" y="202.41" font-size="7.2" font-weight="bold" stroke="#000" stroke-width="0.22" text-anchor="middle">***</text>
<line x1="434.55" y1="227.02" x2="434.55" y2="241.39" stroke="#000" stroke-width="1.3" stroke-linecap="butt"/>
<line x1="431.65" y1="227.02" x2="437.45" y2="227.02" stroke="#000" stroke-width="1.3" stroke-linecap="butt"/>
<rect x="428.90" y="241.39" width="11.30" height="44.81" fill="#858585" stroke="#000" stroke-width="1.3"/>
<text x="434.55" y="224.11" font-size="7.2" font-weight="bold" stroke="#000" stroke-width="0.22" text-anchor="middle">*</text>
<line x1="451.70" y1="239.13" x2="451.70" y2="244.49" stroke="#000" stroke-width="1.3" stroke-linecap="butt"/>
<line x1="448.80" y1="239.13" x2="454.60" y2="239.13" stroke="#000" stroke-width="1.3" stroke-linecap="butt"/>
<rect x="446.05" y="244.49" width="11.30" height="41.71" fill="#000000" stroke="#000" stroke-width="1.3"/>
<text x="451.70" y="233.91" font-size="7.2" font-weight="bold" stroke="#000" stroke-width="0.22" text-anchor="middle">*</text>
<line x1="374.50" y1="192.45" x2="374.50" y2="286.95" stroke="#000" stroke-width="1.5" stroke-linecap="butt"/>
<line x1="374.50" y1="286.20" x2="461.00" y2="286.20" stroke="#000" stroke-width="1.5" stroke-linecap="butt"/>
<line x1="371.50" y1="286.20" x2="374.50" y2="286.20" stroke="#000" stroke-width="1.1" stroke-linecap="butt"/>
<text x="371.00" y="288.60" font-size="6.3" font-weight="bold" stroke="#000" stroke-width="0.22" text-anchor="end">0</text>
<line x1="371.50" y1="262.90" x2="374.50" y2="262.90" stroke="#000" stroke-width="1.1" stroke-linecap="butt"/>
<text x="371.00" y="265.30" font-size="6.3" font-weight="bold" stroke="#000" stroke-width="0.22" text-anchor="end">1</text>
<line x1="371.50" y1="239.60" x2="374.50" y2="239.60" stroke="#000" stroke-width="1.1" stroke-linecap="butt"/>
<text x="371.00" y="242.00" font-size="6.3" font-weight="bold" stroke="#000" stroke-width="0.22" text-anchor="end">2</text>
<line x1="371.50" y1="216.30" x2="374.50" y2="216.30" stroke="#000" stroke-width="1.1" stroke-linecap="butt"/>
<text x="371.00" y="218.70" font-size="6.3" font-weight="bold" stroke="#000" stroke-width="0.22" text-anchor="end">3</text>
<line x1="371.50" y1="193.00" x2="374.50" y2="193.00" stroke="#000" stroke-width="1.1" stroke-linecap="butt"/>
<text x="371.00" y="195.40" font-size="6.3" font-weight="bold" stroke="#000" stroke-width="0.22" text-anchor="end">4</text>
<line x1="383.10" y1="286.20" x2="383.10" y2="288.80" stroke="#000" stroke-width="1.0" stroke-linecap="butt"/>
<text x="384.20" y="293.50" font-size="6.2" font-weight="bold" stroke="#000" stroke-width="0.22" text-anchor="end" transform="rotate(-45 384.20 293.50)">DMEM</text>
<line x1="400.25" y1="286.20" x2="400.25" y2="288.80" stroke="#000" stroke-width="1.0" stroke-linecap="butt"/>
<text x="401.35" y="293.50" font-size="6.2" font-weight="bold" stroke="#000" stroke-width="0.22" text-anchor="end" transform="rotate(-45 401.35 293.50)">PT-7</text>
<line x1="417.40" y1="286.20" x2="417.40" y2="288.80" stroke="#000" stroke-width="1.0" stroke-linecap="butt"/>
<text x="418.50" y="293.50" font-size="6.2" font-weight="bold" stroke="#000" stroke-width="0.22" text-anchor="end" transform="rotate(-45 418.50 293.50)">PT-12</text>
<line x1="434.55" y1="286.20" x2="434.55" y2="288.80" stroke="#000" stroke-width="1.0" stroke-linecap="butt"/>
<text x="435.65" y="293.50" font-size="6.2" font-weight="bold" stroke="#000" stroke-width="0.22" text-anchor="end" transform="rotate(-45 435.65 293.50)">HC-PT-5</text>
<line x1="451.70" y1="286.20" x2="451.70" y2="288.80" stroke="#000" stroke-width="1.0" stroke-linecap="butt"/>
<text x="452.80" y="293.50" font-size="6.2" font-weight="bold" stroke="#000" stroke-width="0.22" text-anchor="end" transform="rotate(-45 452.80 293.50)">HuH7</text>
<text x="417.00" y="185.50" font-size="8.0" font-weight="bold" stroke="#000" stroke-width="0.22" text-anchor="middle">PDGFR-A</text>
<text x="0" y="0" font-size="7.1" font-weight="bold" stroke="#000" stroke-width="0.22" text-anchor="middle" transform="translate(363.00 239.60) rotate(-90) scale(1 0.9)">Fold change (2<tspan font-size="4.26" dy="-3.69">Δ ΔCt</tspan><tspan dy="3.69">)</tspan></text>
<line x1="501.40" y1="245.19" x2="501.40" y2="253.95" stroke="#000" stroke-width="1.3" stroke-linecap="butt"/>
<line x1="498.50" y1="245.19" x2="504.30" y2="245.19" stroke="#000" stroke-width="1.3" stroke-linecap="butt"/>
<rect x="495.75" y="253.95" width="11.30" height="32.25" fill="#ffffff" stroke="#000" stroke-width="1.3"/>
<line x1="518.55" y1="224.19" x2="518.55" y2="230.81" stroke="#000" stroke-width="1.3" stroke-linecap="butt"/>
<line x1="515.65" y1="224.19" x2="521.45" y2="224.19" stroke="#000" stroke-width="1.3" stroke-linecap="butt"/>
<rect x="512.90" y="230.81" width="11.30" height="55.39" fill="#d2d2d2" stroke="#000" stroke-width="1.3"/>
<text x="518.55" y="222.21" font-size="7.2" font-weight="bold" stroke="#000" stroke-width="0.22" text-anchor="middle">**</text>
<line x1="535.70" y1="201.39" x2="535.70" y2="218.16" stroke="#000" stroke-width="1.3" stroke-linecap="butt"/>
<line x1="532.80" y1="201.39" x2="538.60" y2="201.39" stroke="#000" stroke-width="1.3" stroke-linecap="butt"/>
<rect x="530.05" y="218.16" width="11.30" height="68.04" fill="#363636" stroke="#000" stroke-width="1.3"/>
<text x="535.70" y="198.61" font-size="7.2" font-weight="bold" stroke="#000" stroke-width="0.22" text-anchor="middle">***</text>
<line x1="552.85" y1="217.54" x2="552.85" y2="226.40" stroke="#000" stroke-width="1.3" stroke-linecap="butt"/>
<line x1="549.95" y1="217.54" x2="555.75" y2="217.54" stroke="#000" stroke-width="1.3" stroke-linecap="butt"/>
<rect x="547.20" y="226.40" width="11.30" height="59.80" fill="#858585" stroke="#000" stroke-width="1.3"/>
<text x="552.85" y="217.01" font-size="7.2" font-weight="bold" stroke="#000" stroke-width="0.22" text-anchor="middle">***</text>
<line x1="570.00" y1="234.41" x2="570.00" y2="239.82" stroke="#000" stroke-width="1.3" stroke-linecap="butt"/>
<line x1="567.10" y1="234.41" x2="572.90" y2="234.41" stroke="#000" stroke-width="1.3" stroke-linecap="butt"/>
<rect x="564.35" y="239.82" width="11.30" height="46.38" fill="#000000" stroke="#000" stroke-width="1.3"/>
<text x="570.00" y="233.01" font-size="7.2" font-weight="bold" stroke="#000" stroke-width="0.22" text-anchor="middle">*</text>
<line x1="492.90" y1="192.45" x2="492.90" y2="286.95" stroke="#000" stroke-width="1.5" stroke-linecap="butt"/>
<line x1="492.90" y1="286.20" x2="579.30" y2="286.20" stroke="#000" stroke-width="1.5" stroke-linecap="butt"/>
<line x1="489.90" y1="286.20" x2="492.90" y2="286.20" stroke="#000" stroke-width="1.1" stroke-linecap="butt"/>
<text x="489.40" y="288.60" font-size="6.3" font-weight="bold" stroke="#000" stroke-width="0.22" text-anchor="end">0</text>
<line x1="489.90" y1="255.13" x2="492.90" y2="255.13" stroke="#000" stroke-width="1.1" stroke-linecap="butt"/>
<text x="489.40" y="257.53" font-size="6.3" font-weight="bold" stroke="#000" stroke-width="0.22" text-anchor="end">1</text>
<line x1="489.90" y1="224.07" x2="492.90" y2="224.07" stroke="#000" stroke-width="1.1" stroke-linecap="butt"/>
<text x="489.40" y="226.47" font-size="6.3" font-weight="bold" stroke="#000" stroke-width="0.22" text-anchor="end">2</text>
<line x1="489.90" y1="193.00" x2="492.90" y2="193.00" stroke="#000" stroke-width="1.1" stroke-linecap="butt"/>
<text x="489.40" y="195.40" font-size="6.3" font-weight="bold" stroke="#000" stroke-width="0.22" text-anchor="end">3</text>
<line x1="501.40" y1="286.20" x2="501.40" y2="288.80" stroke="#000" stroke-width="1.0" stroke-linecap="butt"/>
<text x="502.50" y="293.50" font-size="6.2" font-weight="bold" stroke="#000" stroke-width="0.22" text-anchor="end" transform="rotate(-45 502.50 293.50)">DMEM</text>
<line x1="518.55" y1="286.20" x2="518.55" y2="288.80" stroke="#000" stroke-width="1.0" stroke-linecap="butt"/>
<text x="519.65" y="293.50" font-size="6.2" font-weight="bold" stroke="#000" stroke-width="0.22" text-anchor="end" transform="rotate(-45 519.65 293.50)">PT-7</text>
<line x1="535.70" y1="286.20" x2="535.70" y2="288.80" stroke="#000" stroke-width="1.0" stroke-linecap="butt"/>
<text x="536.80" y="293.50" font-size="6.2" font-weight="bold" stroke="#000" stroke-width="0.22" text-anchor="end" transform="rotate(-45 536.80 293.50)">PT-12</text>
<line x1="552.85" y1="286.20" x2="552.85" y2="288.80" stroke="#000" stroke-width="1.0" stroke-linecap="butt"/>
<text x="553.95" y="293.50" font-size="6.2" font-weight="bold" stroke="#000" stroke-width="0.22" text-anchor="end" transform="rotate(-45 553.95 293.50)">HC-PT-5</text>
<line x1="570.00" y1="286.20" x2="570.00" y2="288.80" stroke="#000" stroke-width="1.0" stroke-linecap="butt"/>
<text x="571.10" y="293.50" font-size="6.2" font-weight="bold" stroke="#000" stroke-width="0.22" text-anchor="end" transform="rotate(-45 571.10 293.50)">HuH7</text>
<text x="536.00" y="185.50" font-size="8.15" font-weight="bold" stroke="#000" stroke-width="0.22" text-anchor="middle">ADAM9</text>
<text x="0" y="0" font-size="7.1" font-weight="bold" stroke="#000" stroke-width="0.22" text-anchor="middle" transform="translate(481.40 239.60) rotate(-90) scale(1 0.9)">Fold change (2<tspan font-size="4.26" dy="-3.69">Δ ΔCt</tspan><tspan dy="3.69">)</tspan></text>
<line x1="622.10" y1="208.41" x2="622.10" y2="222.45" stroke="#000" stroke-width="1.3" stroke-linecap="butt"/>
<line x1="619.20" y1="208.41" x2="625.00" y2="208.41" stroke="#000" stroke-width="1.3" stroke-linecap="butt"/>
<rect x="616.45" y="222.45" width="11.30" height="63.75" fill="#ffffff" stroke="#000" stroke-width="1.3"/>
<line x1="639.25" y1="244.51" x2="639.25" y2="247.80" stroke="#000" stroke-width="1.3" stroke-linecap="butt"/>
<line x1="636.35" y1="244.51" x2="642.15" y2="244.51" stroke="#000" stroke-width="1.3" stroke-linecap="butt"/>
<rect x="633.60" y="247.80" width="11.30" height="38.40" fill="#d2d2d2" stroke="#000" stroke-width="1.3"/>
<text x="639.25" y="241.31" font-size="7.2" font-weight="bold" stroke="#000" stroke-width="0.22" text-anchor="middle">***</text>
<line x1="656.40" y1="234.63" x2="656.40" y2="239.29" stroke="#000" stroke-width="1.3" stroke-linecap="butt"/>
<line x1="653.50" y1="234.63" x2="659.30" y2="234.63" stroke="#000" stroke-width="1.3" stroke-linecap="butt"/>
<rect x="650.75" y="239.29" width="11.30" height="46.91" fill="#363636" stroke="#000" stroke-width="1.3"/>
<text x="656.40" y="233.91" font-size="7.2" font-weight="bold" stroke="#000" stroke-width="0.22" text-anchor="middle">***</text>
<line x1="673.55" y1="259.79" x2="673.55" y2="264.02" stroke="#000" stroke-width="1.3" stroke-linecap="butt"/>
<line x1="670.65" y1="259.79" x2="676.45" y2="259.79" stroke="#000" stroke-width="1.3" stroke-linecap="butt"/>
<rect x="667.90" y="264.02" width="11.30" height="22.18" fill="#858585" stroke="#000" stroke-width="1.3"/>
<text x="673.55" y="255.51" font-size="7.2" font-weight="bold" stroke="#000" stroke-width="0.22" text-anchor="middle">***</text>
<line x1="690.70" y1="256.31" x2="690.70" y2="260.41" stroke="#000" stroke-width="1.3" stroke-linecap="butt"/>
<line x1="687.80" y1="256.31" x2="693.60" y2="256.31" stroke="#000" stroke-width="1.3" stroke-linecap="butt"/>
<rect x="685.05" y="260.41" width="11.30" height="25.79" fill="#000000" stroke="#000" stroke-width="1.3"/>
<text x="690.70" y="254.41" font-size="7.2" font-weight="bold" stroke="#000" stroke-width="0.22" text-anchor="middle">***</text>
<line x1="613.70" y1="192.45" x2="613.70" y2="286.95" stroke="#000" stroke-width="1.5" stroke-linecap="butt"/>
<line x1="613.70" y1="286.20" x2="700.00" y2="286.20" stroke="#000" stroke-width="1.5" stroke-linecap="butt"/>
<line x1="610.70" y1="286.20" x2="613.70" y2="286.20" stroke="#000" stroke-width="1.1" stroke-linecap="butt"/>
<text x="610.20" y="288.60" font-size="6.3" font-weight="bold" stroke="#000" stroke-width="0.22" text-anchor="end">0.0</text>
<line x1="610.70" y1="255.13" x2="613.70" y2="255.13" stroke="#000" stroke-width="1.1" stroke-linecap="butt"/>
<text x="610.20" y="257.53" font-size="6.3" font-weight="bold" stroke="#000" stroke-width="0.22" text-anchor="end">0.5</text>
<line x1="610.70" y1="224.07" x2="613.70" y2="224.07" stroke="#000" stroke-width="1.1" stroke-linecap="butt"/>
<text x="610.20" y="226.47" font-size="6.3" font-weight="bold" stroke="#000" stroke-width="0.22" text-anchor="end">1.0</text>
<line x1="610.70" y1="193.00" x2="613.70" y2="193.00" stroke="#000" stroke-width="1.1" stroke-linecap="butt"/>
<text x="610.20" y="195.40" font-size="6.3" font-weight="bold" stroke="#000" stroke-width="0.22" text-anchor="end">1.5</text>
<line x1="622.10" y1="286.20" x2="622.10" y2="288.80" stroke="#000" stroke-width="1.0" stroke-linecap="butt"/>
<text x="623.20" y="293.50" font-size="6.2" font-weight="bold" stroke="#000" stroke-width="0.22" text-anchor="end" transform="rotate(-45 623.20 293.50)">DMEM</text>
<line x1="639.25" y1="286.20" x2="639.25" y2="288.80" stroke="#000" stroke-width="1.0" stroke-linecap="butt"/>
<text x="640.35" y="293.50" font-size="6.2" font-weight="bold" stroke="#000" stroke-width="0.22" text-anchor="end" transform="rotate(-45 640.35 293.50)">PT-7</text>
<line x1="656.40" y1="286.20" x2="656.40" y2="288.80" stroke="#000" stroke-width="1.0" stroke-linecap="butt"/>
<text x="657.50" y="293.50" font-size="6.2" font-weight="bold" stroke="#000" stroke-width="0.22" text-anchor="end" transform="rotate(-45 657.50 293.50)">PT-12</text>
<line x1="673.55" y1="286.20" x2="673.55" y2="288.80" stroke="#000" stroke-width="1.0" stroke-linecap="butt"/>
<text x="674.65" y="293.50" font-size="6.2" font-weight="bold" stroke="#000" stroke-width="0.22" text-anchor="end" transform="rotate(-45 674.65 293.50)">HC-PT-5</text>
<line x1="690.70" y1="286.20" x2="690.70" y2="288.80" stroke="#000" stroke-width="1.0" stroke-linecap="butt"/>
<text x="691.80" y="293.50" font-size="6.2" font-weight="bold" stroke="#000" stroke-width="0.22" text-anchor="end" transform="rotate(-45 691.80 293.50)">HuH7</text>
<text x="656.00" y="184.80" font-size="8.15" font-weight="bold" stroke="#000" stroke-width="0.22" text-anchor="middle">IGFBP3</text>
<text x="0" y="0" font-size="7.1" font-weight="bold" stroke="#000" stroke-width="0.22" text-anchor="middle" transform="translate(598.10 239.60) rotate(-90) scale(1 0.9)">Fold change (2<tspan font-size="4.26" dy="-3.69">Δ ΔCt</tspan><tspan dy="3.69">)</tspan></text>
</svg></body></html>
